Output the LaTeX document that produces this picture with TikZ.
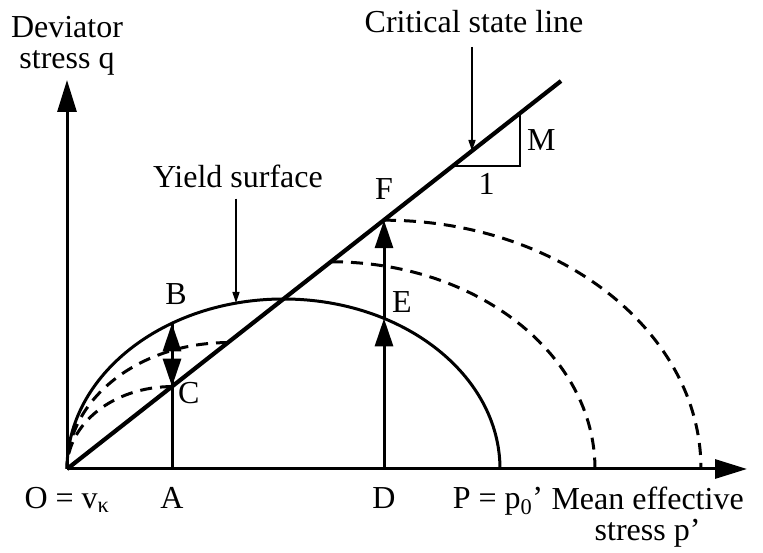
\documentclass[tikz,border=0pt]{standalone}
\usepackage{fontspec}
\setmainfont{Liberation Serif}
\usepackage{tikz}
\usetikzlibrary{arrows.meta,positioning,calc}

\begin{document}
\begin{tikzpicture}[
    x=1pt,y=1pt,
    lab/.style={font=\fontsize{32}{31}\selectfont,inner sep=0pt,align=center},
    axis/.style={line width=3pt,-{Triangle[length=32pt,width=19pt]}},
    csl/.style={line width=4.2pt},
    yieldline/.style={line width=3pt},
    dashline/.style={line width=3pt,dash pattern=on 12pt off 8pt},
    load/.style={line width=3pt,-{Triangle[length=28pt,width=18pt]}},
    pointer/.style={line width=1.4pt,-{Triangle[length=11pt,width=7pt]}},
    tri/.style={line width=1.8pt}
  ]
    \useasboundingbox (0,0) rectangle (763,553);

    \coordinate (O) at (67,84);
    \coordinate (qtip) at (67,473);
    \coordinate (ptip) at (747,84);
    \coordinate (cslend) at (561,472);
    \coordinate (A) at (172,84);
    \coordinate (B) at (172,229.7);
    \coordinate (C) at (172,166.4);
    \coordinate (D) at (384,84);
    \coordinate (E) at (384,234.6);
    \coordinate (F) at (384,332.8);
    \coordinate (P) at (500,84);
    \coordinate (ypt) at (236,250);
    \coordinate (cslpt) at (472,402);
    \coordinate (d1) at (228,210.4);
    \coordinate (d2) at (331,291.2);
    \coordinate (t1) at (453,387);
    \coordinate (t2) at (520,387);
    \coordinate (t3) at (520,439.6);
    \coordinate (tm) at ($(t2)!0.5!(t3)$);
    \coordinate (tb) at ($(t1)!0.5!(t2)$);

    \node[lab,above=4pt of qtip] (qlab) {Deviator\\stress q};
    \node[lab,anchor=south] (csllab) at (474,520) {Critical state line};
    \node[lab,anchor=base] (ylab) at (238,365) {Yield surface};

    \node[lab,below=18pt of O] (olab) {O = v\textsubscript{κ}};
    \node[lab,below=18pt of A] (alab) {A};
    \node[lab,below=18pt of D] (dlab) {D};
    \node[lab,below=18pt of P,xshift=-2pt] (plab) {P = p\textsubscript{0}’};
    \node[lab,right=8pt of plab.north east,anchor=north west] (pplab) {Mean effective\\stress p’};

    \node[lab,above=18pt of B,xshift=4pt] (blab) {B};
    \node[lab,below right=-4pt and 6pt of C] (clab) {C};
    \node[lab,above right=6pt and 8pt of E] (elab) {E};
    \node[lab,above=20pt of F] (flab) {F};
    \node[lab,right=7pt of tm] (mlab) {M};
    \node[lab,below=7pt of tb] (onelab) {1};

    \draw[axis] (O) -- (qtip);
    \draw[axis] (O) -- (ptip);
    \draw[csl] (O) -- (cslend);
    \draw[yieldline] (O) arc[start angle=180,end angle=0,x radius=216.5,y radius=170];
    \draw[dashline] (C) arc[start angle=90,end angle=180,x radius=105,y radius=82.4];
    \draw[dashline] (d1) arc[start angle=90,end angle=180,x radius=161,y radius=126.4];
    \draw[dashline] (d2) arc[start angle=90,end angle=0,x radius=264,y radius=207.2];
    \draw[dashline] (F) arc[start angle=90,end angle=0,x radius=317,y radius=248.8];
    \draw[load] (A) -- (B);
    \draw[load] (B) -- (C);
    \draw[load] (D) -- (E);
    \draw[load] (E) -- (F);
    \draw[pointer,shorten <=10pt] (ylab.south -| ypt) -- (ypt);
    \draw[pointer,shorten <=14pt] (csllab.south -| cslpt) -- (cslpt);
    \draw[tri] (t1) -- (t2) -- (t3);
\end{tikzpicture}
\end{document}
